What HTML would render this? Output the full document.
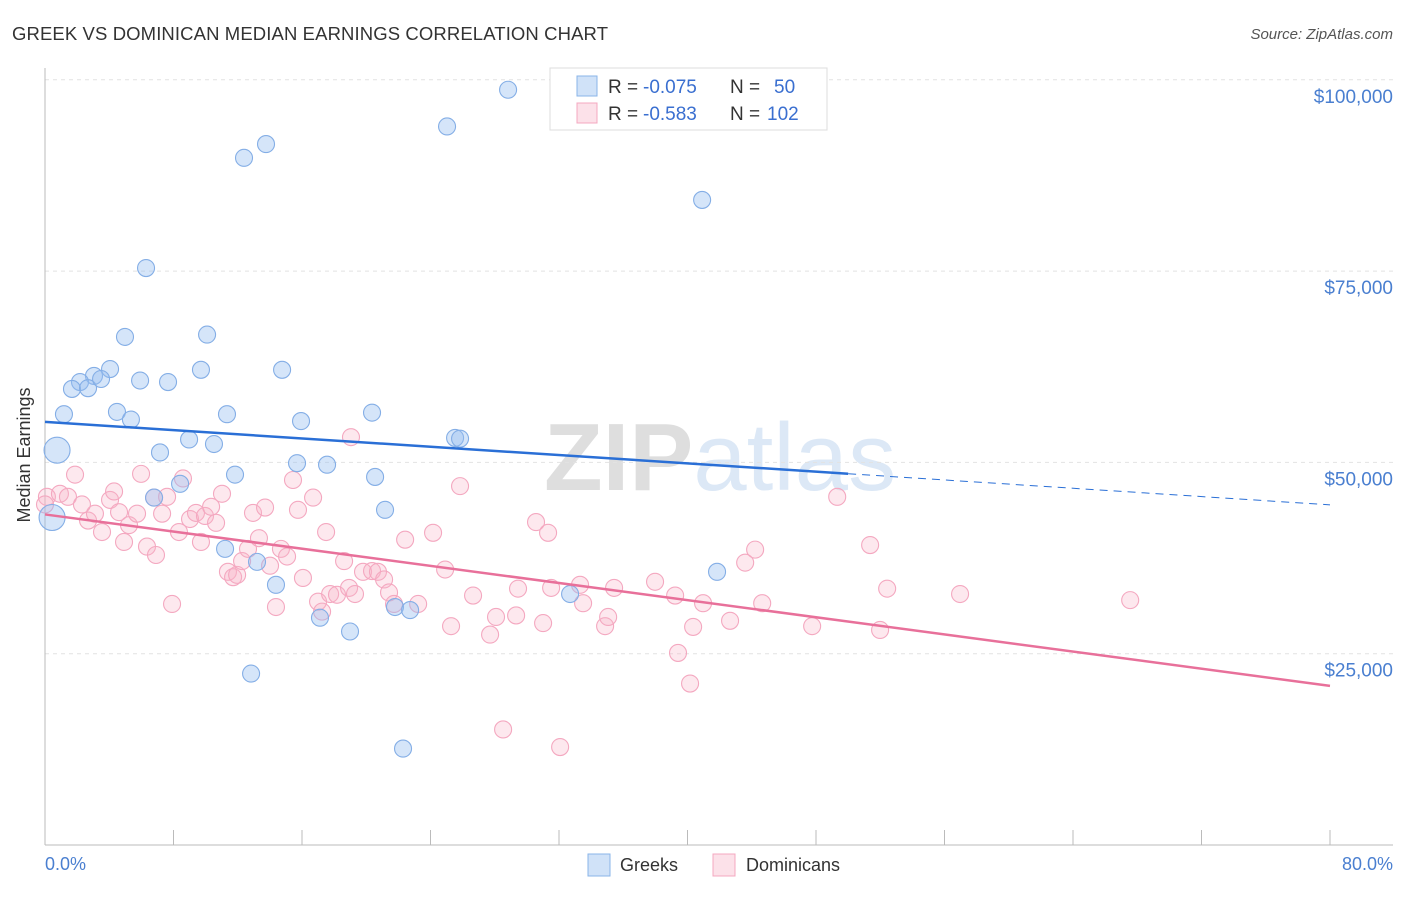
<!DOCTYPE html>
<html><head><meta charset="utf-8"><style>
body{margin:0;background:#fff;font-family:"Liberation Sans",sans-serif}
svg text{font-family:"Liberation Sans",sans-serif}
</style></head><body>
<svg id="c" width="1406" height="892" xmlns="http://www.w3.org/2000/svg">
<text x="12" y="40" font-size="18.5" fill="#333" textLength="596">GREEK VS DOMINICAN MEDIAN EARNINGS CORRELATION CHART</text>
<text x="1393" y="39" font-size="15" fill="#555" font-style="italic" text-anchor="end">Source: ZipAtlas.com</text>
<text x="720" y="490" font-size="96" fill="#e6e6e6" text-anchor="middle" font-family="Liberation Serif"><tspan fill="#dedede" font-weight="bold">ZIP</tspan><tspan fill="#dce8f6">atlas</tspan></text>
<g id="grid"></g><g id="axes"></g><g id="pts"></g><g id="lines"></g>
<text x="30" y="455" font-size="18" fill="#333" text-anchor="middle" transform="rotate(-90 30 455)">Median Earnings</text>
<text x="45" y="870" font-size="18" fill="#4a7fd0">0.0%</text>
<text x="1393" y="870" font-size="18" fill="#4a7fd0" text-anchor="end">80.0%</text>
<g>
<rect x="550" y="68" width="277" height="62" fill="#fff" stroke="#ddd"/>
<rect x="577" y="76" width="20" height="20" fill="rgba(150,190,240,0.45)" stroke="#8ab4e8"/>
<rect x="577" y="103" width="20" height="20" fill="rgba(248,180,200,0.4)" stroke="#f4a8c0"/>
<text x="608" y="93" font-size="19" fill="#333">R =</text>
<text x="643" y="93" font-size="19" fill="#3a6fd0">-0.075</text>
<text x="730" y="93" font-size="19" fill="#333">N =</text>
<text x="774" y="93" font-size="19" fill="#3a6fd0">50</text>
<text x="608" y="120" font-size="19" fill="#333">R =</text>
<text x="643" y="120" font-size="19" fill="#3a6fd0">-0.583</text>
<text x="730" y="120" font-size="19" fill="#333">N =</text>
<text x="767" y="120" font-size="19" fill="#3a6fd0">102</text>
</g>
<g>
<rect x="588" y="854" width="22" height="22" fill="rgba(150,190,240,0.45)" stroke="#8ab4e8"/>
<text x="620" y="871" font-size="18" fill="#333">Greeks</text>
<rect x="713" y="854" width="22" height="22" fill="rgba(248,180,200,0.4)" stroke="#f4a8c0"/>
<text x="746" y="871" font-size="18" fill="#333">Dominicans</text>
</g>
</svg>
<script>
const yTicks=[25000,50000,75000,100000];
const yTickLabels=["$25,000","$50,000","$75,000","$100,000"];
const xTicks=[0,10,20,30,40,50,60,70,80,90,100].map(i=>i*0.8);
const greekX=[28.83,25.03,13.76,12.39,40.91,6.29,4.98,10.09,4.05,5.92,7.66,9.71,14.76,3.05,2.18,1.68,2.68,3.49,1.18,4.48,5.35,11.33,15.94,20.36,7.16,8.97,10.52,25.53,25.84,0.75,15.69,17.56,11.83,20.55,8.41,6.79,21.17,0.44,11.21,13.2,14.38,41.84,32.69,21.79,22.73,17.12,18.99,12.83,22.29];
const greekY=[98.7,93.9,91.6,89.8,84.3,75.4,66.4,66.7,62.2,60.7,60.5,62.1,62.1,61.3,60.5,59.6,59.7,60.9,56.3,56.6,55.6,56.3,55.4,56.5,51.3,53.0,52.4,53.2,53.1,51.6,49.9,49.7,48.4,48.1,47.2,45.4,43.8,42.8,38.7,37.0,34.0,35.7,32.8,31.1,30.7,29.7,27.9,22.4,12.6];
const greekBig=[29,37];
const domX=[0.12,0.93,1.43,0.0,1.87,2.68,3.11,2.30,3.55,4.05,4.30,4.61,4.92,5.23,5.73,5.98,6.35,6.91,6.79,7.29,7.60,7.91,8.34,8.59,9.03,9.40,9.71,9.96,10.34,10.65,11.02,11.39,11.71,11.96,12.27,12.64,12.95,13.32,13.70,14.01,14.38,14.69,15.07,15.44,15.75,16.06,16.69,17.00,17.25,17.50,17.75,18.18,18.62,18.93,19.05,19.30,19.80,20.36,20.73,21.11,21.42,21.73,22.42,23.23,24.16,24.91,25.28,25.84,26.65,27.71,28.08,28.52,29.33,29.45,30.57,31.01,31.32,31.51,32.07,33.31,33.50,34.87,35.06,35.43,37.98,39.23,39.41,40.16,40.35,40.97,42.65,43.59,44.21,44.65,47.76,49.32,51.37,51.99,52.43,56.97,67.56];
const domY=[45.5,45.9,45.5,44.5,48.4,42.4,43.3,44.5,40.9,45.1,46.2,43.5,39.6,41.8,43.3,48.5,39.0,37.9,45.4,43.3,45.5,31.5,40.9,47.9,42.6,43.4,39.6,43.0,44.2,42.1,45.9,35.7,35.0,35.3,37.1,38.7,43.4,40.1,44.1,36.5,31.1,38.7,37.7,47.7,43.8,34.9,45.4,31.8,30.5,40.9,32.8,32.7,37.1,33.6,53.3,32.8,35.7,35.8,35.7,34.7,33.0,31.5,39.9,31.5,40.8,36.0,28.6,46.9,32.6,27.5,29.8,15.1,30.0,33.5,42.2,29.0,40.8,33.6,12.8,34.0,31.6,28.6,29.8,33.6,34.4,32.6,25.1,21.1,28.5,31.6,29.3,36.9,38.6,31.6,28.6,45.5,39.2,28.1,33.5,32.8,32.0];
const greekTrend=[55.3,44.45];
const domTrend=[43.2,20.8];
const X=v=>45+v*(1285/80);
const Y=v=>845-v*(765.2/100000);
const NS="http://www.w3.org/2000/svg";
function mk(t,a,p){const e=document.createElementNS(NS,t);for(const k in a)e.setAttribute(k,a[k]);p.appendChild(e);return e;}
const grid=document.getElementById('grid'),axes=document.getElementById('axes'),pts=document.getElementById('pts'),lines=document.getElementById('lines');
yTicks.forEach((t,i)=>{const l=mk('line',{x1:45,x2:1393,y1:Y(t),y2:Y(t),stroke:'#e2e2e2','stroke-dasharray':'4,4'},grid);


const tx=mk('text',{x:1393,y:Y(t)+23,'font-size':19,fill:'#4a7fd0','text-anchor':'end'},grid);tx.textContent=yTickLabels[i];

});
const al=mk('line',{x1:45,x2:45,y1:68,y2:845,stroke:'#bbb'},axes);


const bl=mk('line',{x1:45,x2:1393,y1:845,y2:845,stroke:'#bbb'},axes);


xTicks.forEach(t=>{const l=mk('line',{x1:X(t),x2:X(t),y1:830,y2:845,stroke:'#bbb'},axes);

});
domX.forEach((x,i)=>{const c=mk('circle',{cx:X(x),cy:Y(domY[i]*1000),r:8.5,fill:'rgba(248,180,200,0.3)',stroke:'#f4a8c0','stroke-width':1.1},pts);

});
greekX.forEach((x,i)=>{const c=mk('circle',{cx:X(x),cy:Y(greekY[i]*1000),r:greekBig.includes(i)?13:8.5,fill:'rgba(150,190,240,0.4)',stroke:'#84aee6','stroke-width':1.1},pts);

});
const gv=p=>greekTrend[0]+(greekTrend[1]-greekTrend[0])*p/80;
const g1=mk('line',{x1:X(0),y1:Y(gv(0)*1000),x2:X(50),y2:Y(gv(50)*1000),stroke:'#2a6fd6','stroke-width':2.5},lines);


const g2=mk('line',{x1:X(50),y1:Y(gv(50)*1000),x2:X(80),y2:Y(gv(80)*1000),stroke:'#2a6fd6','stroke-width':1,'stroke-dasharray':'8,6'},lines);


const d1=mk('line',{x1:X(0),y1:Y(domTrend[0]*1000),x2:X(80),y2:Y(domTrend[1]*1000),stroke:'#e8709a','stroke-width':2.5},lines);


</script>
</body></html>
